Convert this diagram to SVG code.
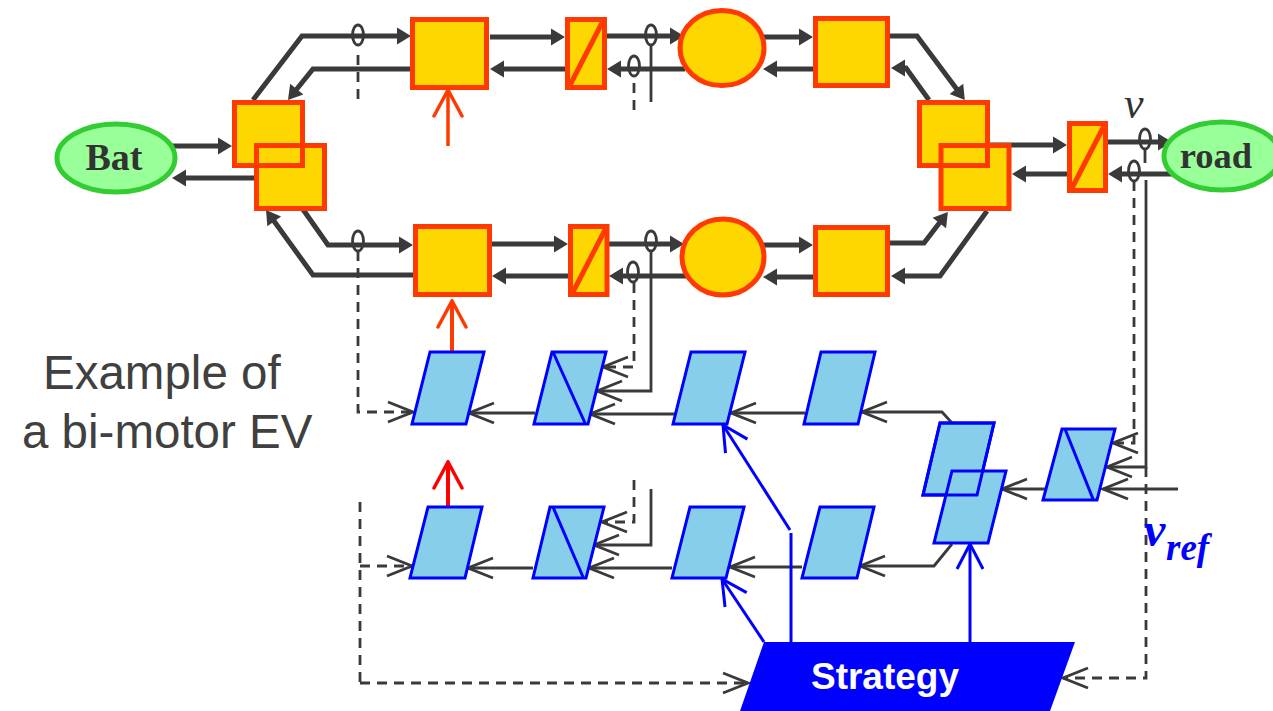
<svg xmlns="http://www.w3.org/2000/svg" width="1273" height="711" viewBox="0 0 1273 711">
<style>
.o{fill:#ffd700;stroke:#ff3a00;stroke-width:5}
.ol{fill:none;stroke:#ff3a00;stroke-width:5}
.b{fill:#87ceeb;stroke:#0000ff;stroke-width:3}
.bl{fill:none;stroke:#0000ff;stroke-width:3}
.g{fill:#99ff99;stroke:#33cc33;stroke-width:5}
.t{fill:none;stroke:#3a3a3a;stroke-width:5;marker-end:url(#fa)}
.s{fill:none;stroke:#3a3a3a;stroke-width:2.800}
.sa{fill:none;stroke:#3a3a3a;stroke-width:2.800;marker-end:url(#oa)}
.d{fill:none;stroke:#3a3a3a;stroke-width:2.800;stroke-dasharray:10 7}
.da{fill:none;stroke:#3a3a3a;stroke-width:2.800;stroke-dasharray:10 7;marker-end:url(#oa)}
.e{fill:none;stroke:#3a3a3a;stroke-width:2.800}
.ba{fill:none;stroke:#0000ff;stroke-width:3;marker-end:url(#ob)}
.serif{font-family:"Liberation Serif",serif;font-weight:bold;fill:#333;text-anchor:middle}
.lab{font-family:"Liberation Sans",Arial,sans-serif;fill:#404040;font-size:47.500px}
</style>
<defs>
<marker id="fa" markerUnits="userSpaceOnUse" viewBox="-8 -10 20 20" markerWidth="20" markerHeight="20" refX="0" refY="0" orient="auto"><path d="M-6,-8.500 L8,0 L-6,8.500 Z" fill="#3a3a3a"/></marker>
<marker id="oa" markerUnits="userSpaceOnUse" viewBox="-28 -13 30 26" markerWidth="30" markerHeight="26" refX="0" refY="0" orient="auto"><path d="M-25,-10 L0,0 L-25,10" fill="none" stroke="#3a3a3a" stroke-width="2.800"/></marker>
<marker id="ob" markerUnits="userSpaceOnUse" viewBox="-28 -16 30 32" markerWidth="30" markerHeight="32" refX="0" refY="0" orient="auto"><path d="M-25,-13 L0,0 L-25,13" fill="none" stroke="#0000ff" stroke-width="3"/></marker>
<marker id="oo" markerUnits="userSpaceOnUse" viewBox="-28 -16 30 32" markerWidth="30" markerHeight="32" refX="0" refY="0" orient="auto"><path d="M-26,-14 L0,0 L-26,14" fill="none" stroke="#ff3a00" stroke-width="3.500" stroke-linecap="round"/></marker>
<marker id="or" markerUnits="userSpaceOnUse" viewBox="-28 -16 30 32" markerWidth="30" markerHeight="32" refX="0" refY="0" orient="auto"><path d="M-26,-14 L0,0 L-26,14" fill="none" stroke="#ff0000" stroke-width="3.500" stroke-linecap="round"/></marker>
</defs>
<g id="connectors">
<path class="t" d="M253,100 L302,36 H403"/>
<path class="t" d="M412,69 H313 L293,93.800"/>
<path class="t" d="M490,37 H557"/>
<path class="t" d="M607,36 H676"/>
<path class="t" d="M685,69 H615"/>
<path class="t" d="M565,69 H498"/>
<path class="t" d="M172,146 H224"/>
<path class="t" d="M256,178 H180"/>
<path class="t" d="M302,208 L328,245 H405"/>
<path class="t" d="M417,275 H313 L270.700,216.500"/>
<path class="t" d="M492,244 H560"/>
<path class="t" d="M609,244 H676"/>
<path class="t" d="M686,276 H617"/>
<path class="t" d="M568,276 H500"/>
<path class="t" d="M763,37 H805"/>
<path class="t" d="M813,69 H771"/>
<path class="t" d="M763,245 H805"/>
<path class="t" d="M813,277 H771"/>
<path class="t" d="M890,36 H917 L960,93.600"/>
<path class="t" d="M929,100 L906,68 H899"/>
<path class="t" d="M890,243 H924 L943,218.300"/>
<path class="t" d="M987,211 L940,276 H899"/>
<path class="t" d="M990,145 H1059"/>
<path class="t" d="M1067,174 H1020"/>
<path class="t" d="M1108,142 H1164"/>
<path class="t" d="M1175,174 H1116"/>

<ellipse class="e" cx="358" cy="35" rx="5.500" ry="10"/>
<ellipse class="e" cx="651" cy="35" rx="5.500" ry="10"/>
<ellipse class="e" cx="634" cy="66" rx="5.500" ry="10"/>
<ellipse class="e" cx="358" cy="241" rx="5.500" ry="10"/>
<ellipse class="e" cx="651" cy="241" rx="5.500" ry="10"/>
<ellipse class="e" cx="633" cy="272" rx="5.500" ry="10"/>
<ellipse class="e" cx="1145" cy="139" rx="5.500" ry="10"/>
<ellipse class="e" cx="1134" cy="171" rx="5.500" ry="10"/>

<path class="d" d="M358,55 V102"/>
<path class="d" d="M634,83 V112"/>
<path class="s" d="M651,45 V102"/>
<path class="s" d="M1145,149 V163"/>

<path class="da" d="M634,283 V367 H603"/>
<path class="sa" d="M651,251 V391 H597"/>
<path class="sa" d="M675,414 H590"/>
<path class="sa" d="M535,413 H469"/>
<path class="da" d="M358,251 V412 H413"/>
<path class="sa" d="M805,413 H731"/>
<path class="sa" d="M952,423 L942,412 H862"/>

<path class="da" d="M634,480 V522 H602"/>
<path class="sa" d="M651,489 V545 H594"/>
<path class="sa" d="M672,568 H589"/>
<path class="sa" d="M533,568 H468"/>
<path class="sa" d="M802,567 H730"/>
<path class="sa" d="M952,544 L934,566 H860"/>
<path class="d" d="M360,502 V683"/>
<path class="da" d="M360,566 H412"/>
<path class="da" d="M360,683 H748"/>
<path class="sa" d="M1045,489 H1002"/>
<path class="da" d="M1134,181 V443 H1113"/>
<path class="sa" d="M1146,180 V467 H1107"/>
<path class="sa" d="M1178,489 H1103"/>
<path class="da" d="M1146,467 V678 H1063"/>

<path class="ba" d="M790,530 L723,425"/>
<path class="s" style="stroke:#0000ff;stroke-width:3" d="M791,533 V642"/>
<path class="ba" d="M764,642 L722,579"/>
<path class="ba" d="M970,642 V544"/>
<path d="M448,146 V90" fill="none" stroke="#ff3a00" stroke-width="3.500" marker-end="url(#oo)"/>
<path d="M452,352 V301" fill="none" stroke="#ff3a00" stroke-width="4" marker-end="url(#oo)"/>
<path d="M448,507 V462" fill="none" stroke="#ff0000" stroke-width="4" marker-end="url(#or)"/>
</g>
<g id="bat"><ellipse class="g" cx="116" cy="158" rx="59" ry="34"/><text class="serif" font-size="38" x="114" y="170">Bat</text></g>
<g id="road"><ellipse class="g" cx="1222" cy="156" rx="58" ry="34"/><text class="serif" font-size="36.500" x="1216" y="168">road</text></g>
<g id="split-left"><rect class="o" x="234.500" y="102.500" width="68" height="63"/><rect class="o" x="256.500" y="145.500" width="68" height="63"/><rect class="ol" x="234.500" y="102.500" width="68" height="63"/></g>
<g id="split-right"><rect class="o" x="919.500" y="102.500" width="68" height="63"/><rect class="o" x="941" y="145.500" width="68" height="63"/><rect class="ol" x="919.500" y="102.500" width="68" height="63"/></g>
<g id="box-top-1"><rect class="o" x="412.500" y="19.500" width="74" height="68"/></g>
<g id="conv-top"><rect class="o" x="567.500" y="19.500" width="37" height="68"/><path class="ol" d="M604,19 L569,87"/></g>
<g id="motor-top"><ellipse class="o" cx="722" cy="48" rx="42" ry="37.500"/></g>
<g id="box-top-2"><rect class="o" x="815.500" y="18.500" width="72" height="67"/></g>
<g id="box-bot-1"><rect class="o" x="415.500" y="226.500" width="74" height="68"/></g>
<g id="conv-bot"><rect class="o" x="570.500" y="226.500" width="36.500" height="68"/><path class="ol" d="M607,226 L572,294"/></g>
<g id="motor-bot"><ellipse class="o" cx="723" cy="257" rx="41" ry="38"/></g>
<g id="box-bot-2"><rect class="o" x="815.500" y="227.500" width="72" height="67"/></g>
<g id="conv-road"><rect class="o" x="1069.500" y="123.500" width="36" height="67"/><path class="ol" d="M1105,124 L1071,190"/></g>

<g id="ctrl-1a"><polygon class="b" points="430,352 484,352 466,424 412,424"/></g>
<g id="ctrl-1b"><polygon class="b" points="552,352 606,352 588,424 534,424"/><path class="bl" d="M553,352 L585,423"/></g>
<g id="ctrl-1c"><polygon class="b" points="691,352 745,352 727,424 673,424"/></g>
<g id="ctrl-1d"><polygon class="b" points="821,352 875,352 858,424 804,424"/></g>
<g id="ctrl-2a"><polygon class="b" points="428,507 482,507 465,578 410,578"/></g>
<g id="ctrl-2b"><polygon class="b" points="550,507 604,507 586,578 533,578"/><path class="bl" d="M553,507 L583,577"/></g>
<g id="ctrl-2c"><polygon class="b" points="690,507 744,507 726,578 672,578"/></g>
<g id="ctrl-2d"><polygon class="b" points="820,507 874,507 857,578 802,578"/></g>
<g id="ctrl-split"><polygon class="b" points="940,423 994,423 977,495 923,495"/><polygon class="b" points="952,471 1006,471 988,543 934,543"/><polygon class="bl" points="940,423 994,423 977,495 923,495"/></g>
<g id="ctrl-speed"><polygon class="b" points="1062,429 1115,429 1097,500 1043,500"/><path class="bl" d="M1065,429 L1093,499"/></g>
<g id="strategy"><polygon points="764,642 1075,642 1050,711 740,711" fill="#0000ff"/><text x="885" y="689" font-family="Liberation Sans, Arial, sans-serif" font-weight="bold" font-size="37" fill="#fff" text-anchor="middle">Strategy</text></g>

<text class="lab" x="43" y="389">Example of</text>
<text class="lab" x="22" y="448">a bi-motor EV</text>
<text x="1124" y="118" font-family="Liberation Serif, serif" font-style="italic" font-size="44" fill="#333">v</text>
<text x="1144" y="546" font-family="Liberation Serif, serif" font-style="italic" font-weight="bold" font-size="48" fill="#0000ff">v</text>
<text x="1166" y="560" font-family="Liberation Serif, serif" font-style="italic" font-weight="bold" font-size="37" fill="#0000ff">ref</text>
</svg>
